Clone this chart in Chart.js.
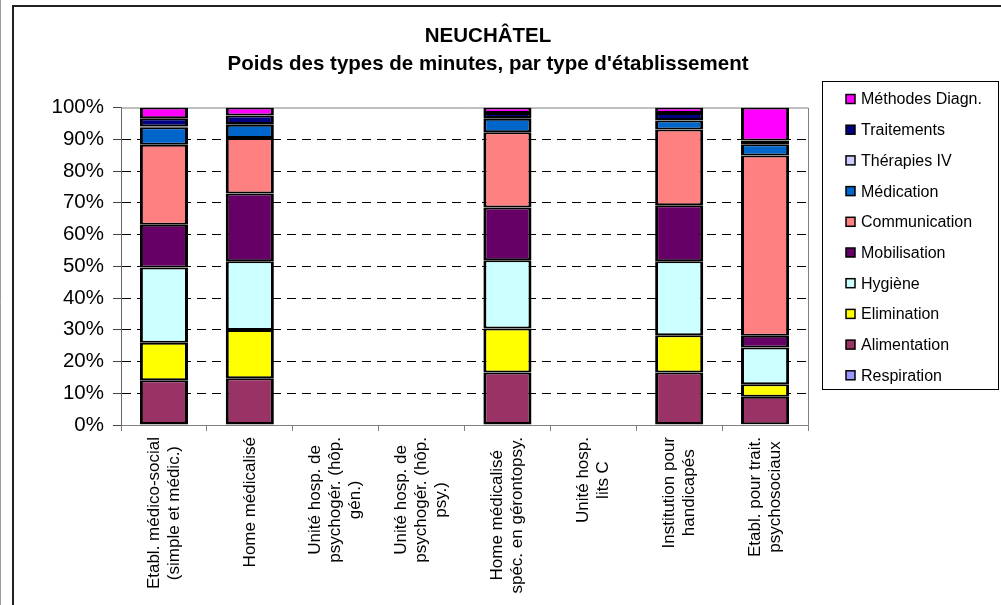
<!DOCTYPE html>
<html lang="fr">
<head>
<meta charset="utf-8">
<title>NEUCHÂTEL – Poids des types de minutes</title>
<script src="https://cdn.jsdelivr.net/npm/chart.js@4/dist/chart.umd.min.js"></script>
<style>
  html, body { margin: 0; padding: 0; background: #fff; overflow: hidden; }
  canvas { display: block; }
</style>
</head>
<body>
<canvas id="chart" width="1001" height="605"></canvas>
<script>
// Establishment types (multi-line category labels)
const categories = [
  ['Etabl. médico-social', '(simple et médic.)'],
  ['Home médicalisé'],
  ['Unité hosp. de', 'psychogér. (hôp.', 'gén.)'],
  ['Unité hosp. de', 'psychogér. (hôp.', 'psy.)'],
  ['Home médicalisé', 'spéc. en gérontopsy.'],
  ['Unité hosp.', 'lits C'],
  ['Institution pour', 'handicapés'],
  ['Etabl. pour trait.', 'psychosociaux']
];

// Share of minutes per care type (%), one value per establishment type
const respiration   = [0.3, 0.3, null, null, 0.3, null, 0.3, 0.2];
const alimentation  = [13.8, 14.4, null, null, 16.2, null, 16.2, 8.7];
const elimination   = [11.8, 15.2, null, null, 13.9, null, 11.8, 3.9];
const hygiene       = [23.7, 21.7, null, null, 21.5, null, 23.3, 11.6];
const mobilisation  = [13.5, 21.3, null, null, 16.6, null, 17.6, 3.7];
const communication = [25.2, 17.5, null, null, 23.7, null, 23.9, 56.8];
const medication    = [5.5, 4.2, null, null, 4.3, null, 2.8, 3.5];
const therapiesIV   = [0.2, 0.2, null, null, 0.2, null, 0.2, 0.1];
const traitements   = [2.6, 2.7, null, null, 1.6, null, 2.2, 1.1];
const methodes      = [3.4, 2.5, null, null, 1.7, null, 1.7, 10.4];

const seriesNames  = ['Respiration', 'Alimentation', 'Elimination', 'Hygiène', 'Mobilisation',
                      'Communication', 'Médication', 'Thérapies IV', 'Traitements', 'Méthodes Diagn.'];
const seriesValues = [respiration, alimentation, elimination, hygiene, mobilisation,
                      communication, medication, therapiesIV, traitements, methodes];
const seriesColors = ['#9999FF', '#993366', '#FFFF00', '#CCFFFF', '#660066',
                      '#FF8080', '#0066CC', '#CCCCFF', '#000080', '#FF00FF'];

const yTicks = [0, 10, 20, 30, 40, 50, 60, 70, 80, 90, 100];

const FONT = "'Liberation Sans', Arial, Helvetica, sans-serif";

const datasets = seriesNames.map((name, i) => ({
  label: name,
  data: seriesValues[i],
  backgroundColor: seriesColors[i],
  borderColor: '#000',
  borderWidth: { top: 2, bottom: 2, left: 3, right: 3 },
  borderSkipped: false,
  inflateAmount: 0,
  categoryPercentage: 1.0,
  barPercentage: 0.56
}));

// Page frame lines and white background
const framePlugin = {
  id: 'frame',
  beforeDraw(chart) {
    const ctx = chart.ctx;
    ctx.save();
    ctx.fillStyle = '#fff';
    ctx.fillRect(0, 0, chart.width, chart.height);
    ctx.strokeStyle = '#9a9a9a';
    ctx.lineWidth = 1;
    ctx.beginPath(); ctx.moveTo(0.5, 0); ctx.lineTo(0.5, chart.height); ctx.stroke();
    ctx.strokeStyle = '#222';
    ctx.lineWidth = 2;
    ctx.beginPath();
    ctx.moveTo(13, chart.height); ctx.lineTo(13, 6); ctx.lineTo(chart.width, 6);
    ctx.stroke();
    ctx.restore();
  }
};

// Grey outline of the plot area (top and right sides)
const plotBorderPlugin = {
  id: 'plotBorder',
  beforeDatasetsDraw(chart) {
    const { ctx, chartArea: a } = chart;
    ctx.save();
    ctx.strokeStyle = '#808080';
    ctx.lineWidth = 1;
    ctx.beginPath();
    ctx.moveTo(a.left, a.top + 0.5);
    ctx.lineTo(a.right + 0.5, a.top + 0.5);
    ctx.lineTo(a.right + 0.5, a.bottom);
    ctx.stroke();
    ctx.restore();
  }
};

// Rotated, centred multi-line category labels under the x axis
const xLabelPlugin = {
  id: 'xLabels',
  afterDraw(chart) {
    const ctx = chart.ctx;
    const xs = chart.scales.x;
    const top = chart.chartArea.bottom + 12;
    const lineGap = 20;
    ctx.save();
    ctx.font = '17px ' + FONT;
    ctx.fillStyle = '#000';
    ctx.textAlign = 'center';
    ctx.textBaseline = 'middle';
    categories.forEach((lines, i) => {
      const cx = xs.getPixelForValue(i);
      const w = Math.max(...lines.map(l => ctx.measureText(l).width));
      const cy = top + w / 2;
      lines.forEach((line, j) => {
        const lx = cx + (j - (lines.length - 1) / 2) * lineGap;
        ctx.save();
        ctx.translate(lx, cy);
        ctx.rotate(-Math.PI / 2);
        ctx.fillText(line, 0, 0);
        ctx.restore();
      });
    });
    ctx.restore();
  }
};

// Boxed legend at the right, listed from the top series down
const legendPlugin = {
  id: 'boxLegend',
  afterDraw(chart) {
    const ctx = chart.ctx;
    const box = { x: 822.5, y: 81.5, w: 176, h: 308 };
    const step = 30.7;
    ctx.save();
    ctx.strokeStyle = '#000';
    ctx.lineWidth = 1;
    ctx.strokeRect(box.x, box.y, box.w, box.h);
    ctx.font = '16px ' + FONT;
    ctx.textAlign = 'left';
    ctx.textBaseline = 'middle';
    const order = chart.data.datasets.map((d, i) => i).reverse();
    order.forEach((di, k) => {
      const ds = chart.data.datasets[di];
      const cy = 99 + k * step;
      ctx.fillStyle = ds.backgroundColor;
      ctx.fillRect(846, cy - 4.5, 9, 9);
      ctx.lineWidth = 1.5;
      ctx.strokeStyle = '#000';
      ctx.strokeRect(846, cy - 4.5, 9, 9);
      ctx.fillStyle = '#000';
      ctx.fillText(ds.label, 861, cy + 1);
    });
    ctx.restore();
  }
};

new Chart(document.getElementById('chart'), {
  type: 'bar',
  data: { labels: categories, datasets },
  options: {
    responsive: false,
    animation: false,
    devicePixelRatio: 1,
    layout: { padding: { left: 0, right: 25, top: 0, bottom: 0 } },
    plugins: {
      legend: { display: false },
      tooltip: { enabled: false },
      title: {
        display: true,
        text: ['NEUCHÂTEL', "Poids des types de minutes, par type d'établissement"],
        color: '#000',
        font: { family: FONT, size: 20.5, weight: 'bold', lineHeight: 1.33 },
        padding: { top: 23, bottom: 30 }
      }
    },
    scales: {
      x: {
        stacked: true,
        offset: true,
        grid: {
          display: true,
          drawOnChartArea: false,
          offset: true,
          color: '#808080',
          tickColor: '#808080',
          tickLength: 6
        },
        border: { display: true, color: '#808080', width: 1 },
        ticks: { display: false },
        afterFit(scale) { scale.height = 180; }
      },
      y: {
        stacked: true,
        min: 0,
        max: 100,
        afterBuildTicks(scale) { scale.ticks = yTicks.map(v => ({ value: v })); },
        ticks: {
          color: '#000',
          padding: 9,
          font: { family: FONT, size: 20.5 },
          callback: v => v + '%'
        },
        grid: {
          color: c => (c.tick && (c.tick.value === 0 || c.tick.value === 100)) ? 'rgba(0,0,0,0)' : '#000',
          lineWidth: 1,
          tickColor: '#444',
          tickLength: 8,
          tickBorderDash: []
        },
        border: { display: true, color: '#666', width: 1, dash: [9, 6] },
        afterFit(scale) { scale.width = 121; }
      },
      legendSpace: {
        type: 'linear',
        position: 'right',
        display: true,
        grid: { display: false },
        ticks: { display: false },
        border: { display: false },
        afterFit(scale) { scale.width = 168; }
      }
    }
  },
  plugins: [framePlugin, plotBorderPlugin, xLabelPlugin, legendPlugin]
});
</script>
</body>
</html>
